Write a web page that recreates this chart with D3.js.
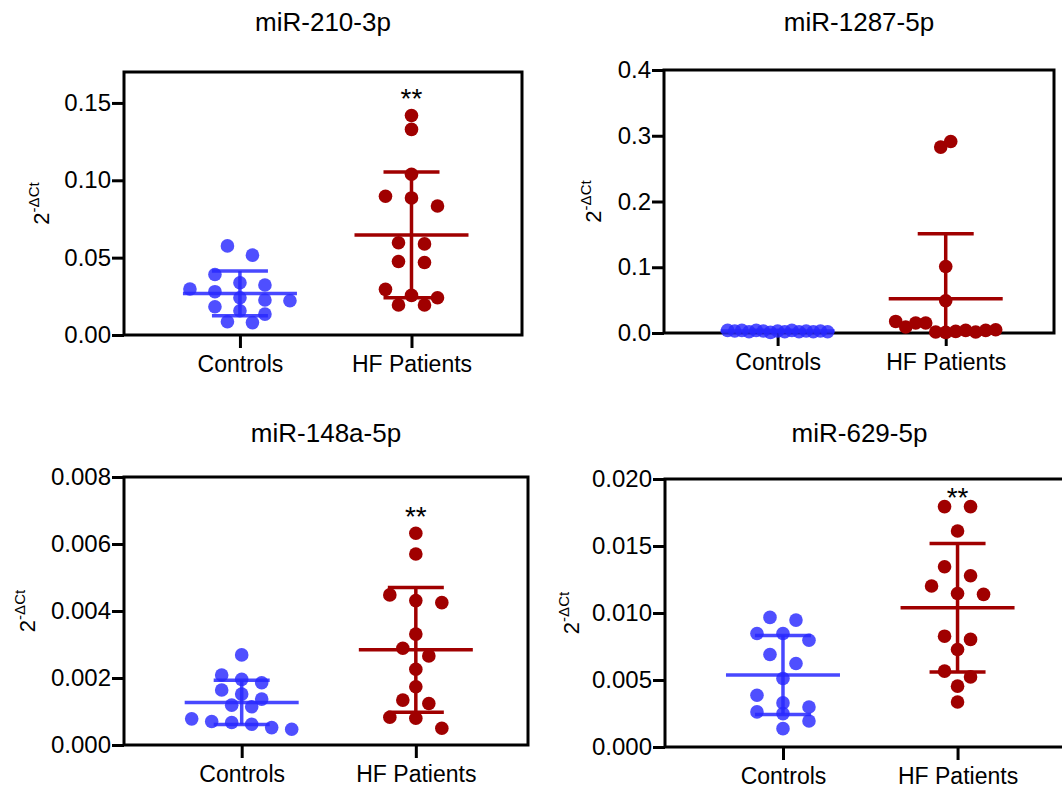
<!DOCTYPE html>
<html>
<head>
<meta charset="utf-8">
<script src="https://cdn.jsdelivr.net/npm/d3@7"></script>
<style>
  body { margin: 0; background: #fff; }
  svg text { font-family: "Liberation Sans", Arial, sans-serif; fill: #000; }
</style>
</head>
<body>
<div class="chart"></div>
<script>
var groups = ["Controls", "HF Patients"];

// miR-210-3p
var mir210Controls = [0.0576, 0.0516, 0.0391, 0.0338, 0.0323, 0.0297, 0.0280, 0.0241, 0.0226, 0.0221, 0.0183, 0.0157, 0.0135, 0.0086, 0.0080];
var mir210HF = [0.1419, 0.1329, 0.1039, 0.0897, 0.0886, 0.0834, 0.0596, 0.0589, 0.0475, 0.0469, 0.0295, 0.0256, 0.0241, 0.0194, 0.0194];
var mir210Mean = [0.0269, 0.0647];
var mir210SD = [0.0144, 0.0407];
var mir210Ticks = [0, 0.05, 0.10, 0.15];

// miR-1287-5p
var mir1287Controls = [0.004, 0.003, 0.004, 0.002, 0.004, 0.003, 0.001, 0.003, 0.002, 0.004, 0.002, 0.003, 0.002, 0.003, 0.002];
var mir1287HF = [0.2827, 0.2912, 0.1012, 0.0491, 0.0176, 0.0091, 0.0152, 0.0152, 0.0015, 0.0010, 0.0024, 0.0040, 0.0015, 0.0040, 0.0050];
var mir1287Mean = [0.003, 0.052];
var mir1287SD = [0.001, 0.099];
var mir1287Ticks = [0, 0.1, 0.2, 0.3, 0.4];

// miR-148a-5p
var mir148Controls = [0.00269, 0.00209, 0.00196, 0.00186, 0.00164, 0.00152, 0.00137, 0.00119, 0.00114, 0.00078, 0.00070, 0.00067, 0.00062, 0.00052, 0.00047];
var mir148HF = [0.00632, 0.00570, 0.00448, 0.00431, 0.00425, 0.00331, 0.00289, 0.00266, 0.00226, 0.00174, 0.00134, 0.00124, 0.00083, 0.00080, 0.00050];
var mir148Mean = [0.00127, 0.00284];
var mir148SD = [0.00066, 0.00186];
var mir148Ticks = [0, 0.002, 0.004, 0.006, 0.008];

// miR-629-5p
var mir629Controls = [0.00967, 0.00947, 0.00847, 0.00847, 0.00797, 0.00690, 0.00623, 0.00511, 0.00386, 0.00329, 0.00299, 0.00262, 0.00249, 0.00194, 0.00137];
var mir629HF = [0.01794, 0.01794, 0.01612, 0.01345, 0.01278, 0.01201, 0.01146, 0.01139, 0.00827, 0.00803, 0.00728, 0.00566, 0.00523, 0.00454, 0.00336];
var mir629Mean = [0.00538, 0.01039];
var mir629SD = [0.00295, 0.0048];
var mir629Ticks = [0, 0.005, 0.010, 0.015, 0.020];

var panels = [
  { title: "miR-210-3p", series: [mir210Controls, mir210HF], mean: mir210Mean, sd: mir210SD,
    ticks: mir210Ticks, max: 0.17, fmt: ".2f", stars: true,
    box: { x0: 124, x1: 522, y0: 72, y1: 335 }, labelX: 49, titleY: 31 },
  { title: "miR-1287-5p", series: [mir1287Controls, mir1287HF], mean: mir1287Mean, sd: mir1287SD,
    ticks: mir1287Ticks, max: 0.4, fmt: ".1f", stars: false,
    box: { x0: 664, x1: 1054, y0: 70, y1: 333 }, labelX: 601, titleY: 31 },
  { title: "miR-148a-5p", series: [mir148Controls, mir148HF], mean: mir148Mean, sd: mir148SD,
    ticks: mir148Ticks, max: 0.008, fmt: ".3f", stars: true,
    box: { x0: 124, x1: 528, y0: 477, y1: 745 }, labelX: 35, titleY: 442 },
  { title: "miR-629-5p", series: [mir629Controls, mir629HF], mean: mir629Mean, sd: mir629SD,
    ticks: mir629Ticks, max: 0.02, fmt: ".3f", stars: true,
    box: { x0: 665, x1: 1070, y0: 479, y1: 747 }, labelX: 579, titleY: 442 }
];

var colors = ["#2828ff", "#a00000"];
var dotOpacity = [0.82, 1];

var width = 1062, height = 788;
var svg = d3.select("div.chart").append("svg")
  .attr("width", width)
  .attr("height", height);

// prism-like scatter: points grouped into rows, each row centred on the group
function swarm(values, y, cx) {
  var rowH = 13, spacing = 26, maxSpread = 100;
  var pts = values.map((v, i) => ({ v: v, y: y(v), i: i }));
  var sorted = pts.slice().sort((a, b) => a.y - b.y);
  var rows = [], cur = null;
  sorted.forEach(p => {
    if (!cur || p.y - cur[0].y >= rowH) { cur = [p]; rows.push(cur); }
    else cur.push(p);
  });
  var maxN = d3.max(rows, r => r.length);
  var s = maxN > 1 ? Math.min(spacing, maxSpread / (maxN - 1)) : spacing;
  rows.forEach(r => {
    r.sort((a, b) => a.i - b.i);
    r.forEach((p, k) => { p.x = cx + (k - (r.length - 1) / 2) * s; });
  });
  return pts;
}

panels.forEach(function(p, pi) {
  var b = p.box;
  var g = svg.append("g");

  var x = d3.scalePoint().domain(groups).range([b.x0, b.x1]).padding(0.66).align(0.512);
  var y = d3.scaleLinear().domain([0, p.max]).range([b.y1, b.y0]);

  // title
  g.append("text")
    .attr("x", (b.x0 + Math.min(b.x1, 1054)) / 2)
    .attr("y", p.titleY)
    .attr("text-anchor", "middle")
    .style("font-size", "26px")
    .text(p.title);

  // y label 2^-ΔCt
  var lab = g.append("text")
    .attr("transform", "translate(" + p.labelX + "," + ((b.y0 + b.y1) / 2) + ") rotate(-90)")
    .attr("text-anchor", "middle")
    .style("font-size", "22px");
  lab.append("tspan").text("2");
  lab.append("tspan").attr("dy", -10).style("font-size", "15px").text("-ΔCt");

  // axes
  var yAxis = g.append("g")
    .attr("transform", "translate(" + b.x0 + ",0)")
    .call(d3.axisLeft(y).tickValues(p.ticks).tickFormat(d3.format(p.fmt)).tickSize(12).tickPadding(1));
  var xAxis = g.append("g")
    .attr("transform", "translate(0," + b.y1 + ")")
    .call(d3.axisBottom(x).tickSize(13).tickPadding(8));
  [yAxis, xAxis].forEach(a => {
    a.select(".domain").remove();
    a.selectAll(".tick line").attr("stroke", "#000").attr("stroke-width", 3);
    a.selectAll(".tick text").attr("fill", "#000");
  });
  yAxis.selectAll(".tick text").style("font-size", "24px");
  xAxis.selectAll(".tick text").style("font-size", "23px");

  // frame
  g.append("rect")
    .attr("x", b.x0).attr("y", b.y0)
    .attr("width", b.x1 - b.x0).attr("height", b.y1 - b.y0)
    .attr("fill", "none").attr("stroke", "#000").attr("stroke-width", 3);

  var clipId = "clip" + pi;
  svg.append("clipPath").attr("id", clipId)
    .append("rect")
    .attr("x", b.x0).attr("y", b.y0)
    .attr("width", b.x1 - b.x0).attr("height", b.y1 - b.y0);

  groups.forEach(function(grp, gi) {
    var cx = x(grp);
    var pts = swarm(p.series[gi], y, cx);

    g.append("g").selectAll("circle")
      .data(pts)
      .enter()
      .append("circle")
      .attr("cx", d => d.x)
      .attr("cy", d => d.y)
      .attr("r", 6.8)
      .attr("fill", colors[gi])
      .attr("fill-opacity", dotOpacity[gi]);

    // mean ± SD
    var m = p.mean[gi], s = p.sd[gi];
    var eb = g.append("g")
      .attr("clip-path", "url(#" + clipId + ")")
      .attr("stroke", colors[gi])
      .attr("stroke-opacity", gi === 0 ? 0.85 : 1)
      .attr("stroke-width", 3.5);
    eb.append("line").attr("x1", cx).attr("x2", cx).attr("y1", y(m + s)).attr("y2", y(m - s));
    eb.append("line").attr("x1", cx - 57).attr("x2", cx + 57).attr("y1", y(m)).attr("y2", y(m));
    eb.append("line").attr("x1", cx - 28).attr("x2", cx + 28).attr("y1", y(m + s)).attr("y2", y(m + s));
    eb.append("line").attr("x1", cx - 28).attr("x2", cx + 28).attr("y1", y(m - s)).attr("y2", y(m - s));
  });

  if (p.stars) {
    var top = d3.max(p.series[1]);
    var cy = Math.max(y(top) - 22, b.y0 + 13);
    g.append("text")
      .attr("x", x(groups[1]))
      .attr("y", cy + 15)
      .attr("text-anchor", "middle")
      .style("font-size", "28px")
      .text("**");
  }
});
</script>
</body>
</html>
